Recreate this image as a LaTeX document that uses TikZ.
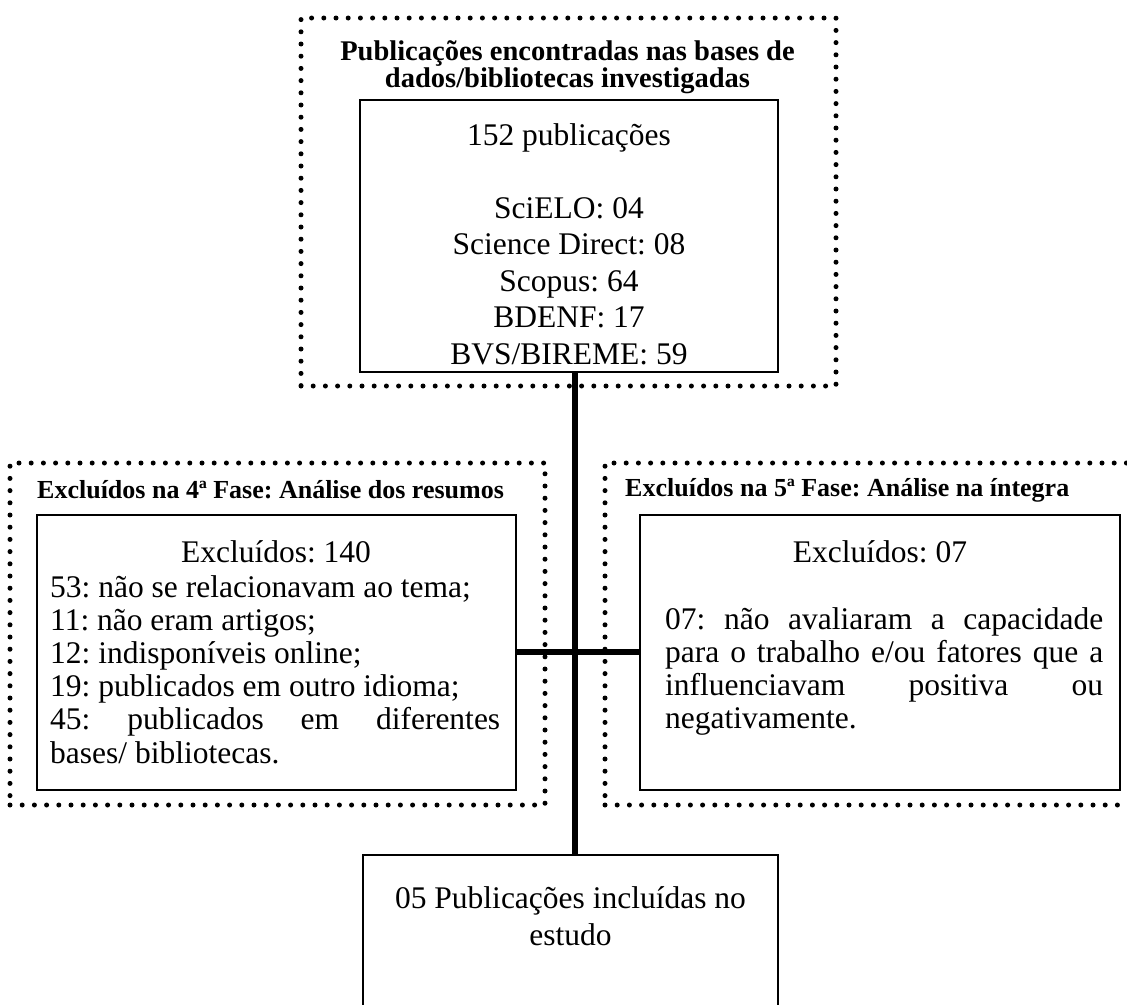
\documentclass[tikz,border=0pt]{standalone}
\usepackage{fontspec}
\setmainfont{Liberation Serif}
\usetikzlibrary{calc}
\frenchspacing
\tikzset{
  dotbox/.style={draw, line width=5pt, dash pattern=on 0pt off 12.2pt, line cap=round, inner sep=0pt, outer sep=0pt},
  plainbox/.style={draw, line width=2pt, inner sep=0pt, outer sep=0pt},
  heading/.style={font=\fontsize{26}{26}\selectfont\bfseries, inner sep=0pt},
  bodytext/.style={font=\fontsize{31.5}{36.5}\selectfont, inner sep=0pt},
  listtext/.style={font=\fontsize{31.5}{33.2}\selectfont, inner sep=0pt, align=justify},
  conn/.style={line width=5.5pt}
}
\begin{document}
\begin{tikzpicture}[x=1pt,y=-1pt]
\useasboundingbox (0,0) rectangle (1127,1004);
\clip (0,0) rectangle (1127,1004);
% top group
\node[dotbox, minimum width=535pt, minimum height=368pt] (topouter) at (568.5,202) {};
\node[heading, font=\fontsize{28.5}{27}\selectfont\bfseries, align=center] (tophead) at (567.5,67) {Publicações encontradas nas bases de\\dados/bibliotecas investigadas};
\node[plainbox, minimum width=418pt, minimum height=272pt] (topbox) at (569,236) {};
\node[bodytext, align=center] (topcontent) at (569,244) {152 publicações\\\mbox{}\\SciELO: 04\\Science Direct: 08\\Scopus: 64\\BDENF: 17\\BVS/BIREME: 59};
% left group
\node[dotbox, minimum width=535pt, minimum height=342pt] (leftouter) at (277.5,634) {};
\node[heading, anchor=west] (lefthead) at (37,490) {Excluídos na 4ª Fase: Análise dos resumos};
\node[plainbox, minimum width=479pt, minimum height=275pt] (leftbox) at (276.5,652.5) {};
\node[bodytext] (lefttitle) at (276,552) {Excluídos: 140};
\node[listtext, text width=450pt, anchor=north west] (leftlist) at (50,575) {\hyphenpenalty=10000 53: não se relacionavam ao tema;\\11: não eram artigos;\\12: indisponíveis online;\\19: publicados em outro idioma;\\45: publicados em diferentes\linebreak bases/ bibliotecas.};
% right group
\node[dotbox, minimum width=535pt, minimum height=342pt] (rightouter) at (872.5,634) {};
\node[heading, anchor=west] (righthead) at (625,490) {Excluídos na 5ª Fase: Análise na íntegra};
\node[plainbox, minimum width=480pt, minimum height=275pt] (rightbox) at (880,652.5) {};
\node[bodytext] (righttitle) at (880,552) {Excluídos: 07};
\node[listtext, text width=438pt, anchor=north west] (rightlist) at (665,607) {\hyphenpenalty=10000 07: não avaliaram a capacidade\linebreak para o trabalho e/ou fatores que a\linebreak influenciavam positiva ou\linebreak negativamente.};
% bottom
\node[plainbox, minimum width=415pt, minimum height=160pt] (bottombox) at (570.5,935) {};
\node[bodytext, align=center] (bottomtext) at (570.5,916) {05 Publicações incluídas no\\estudo};
% connectors
\coordinate (j) at (575,652);
\draw[conn] (j |- topbox.south) -- (j |- bottombox.north);
\draw[conn] (leftbox.east |- j) -- (rightbox.west |- j);
\end{tikzpicture}
\end{document}
